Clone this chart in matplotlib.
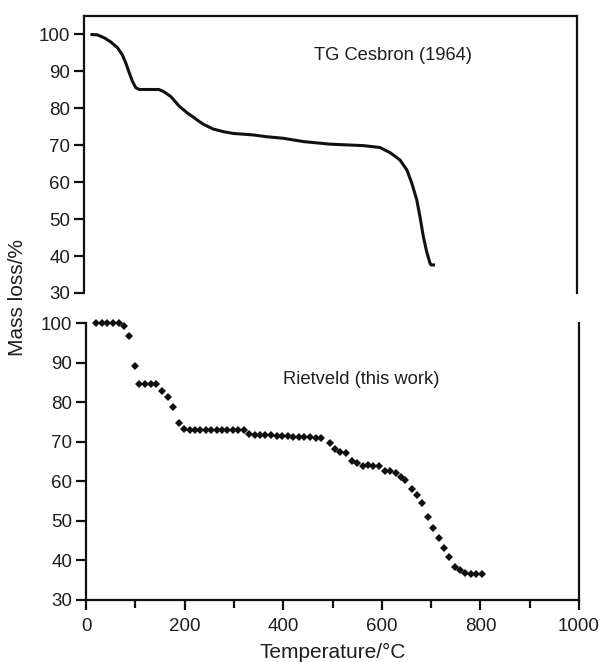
import matplotlib
matplotlib.use("Agg")
import matplotlib.pyplot as plt
from matplotlib.ticker import MultipleLocator

plt.rcParams['font.family'] = ['Liberation Sans', 'DejaVu Sans']

# TG curve (Cesbron, 1964)
tg_temp = [13, 27, 41, 54, 68, 78, 85, 91, 98, 105, 112, 152, 162, 176, 193,
           210, 222, 232, 242, 262, 282, 303, 343, 371, 404, 445, 499, 567,
           600, 621, 641, 655, 665, 675, 682, 688, 695, 702, 704, 712]
tg_mass = [100.0, 99.9, 99.1, 98.0, 96.4, 94.4, 92.2, 89.9, 87.4, 85.6, 85.1,
           85.1, 84.5, 83.2, 80.6, 78.7, 77.6, 76.6, 75.7, 74.4, 73.7, 73.2,
           72.8, 72.3, 71.9, 71.0, 70.3, 69.9, 69.4, 68.0, 66.0, 63.3, 59.7,
           55.2, 50.3, 45.5, 41.2, 38.0, 37.6, 37.6]

# Rietveld refinement results (this work)
rv_temp = [20, 32, 43, 55, 67, 77, 88, 99, 108, 120, 131, 142, 155, 166, 176,
           188, 198, 210, 221, 232, 243, 254, 265, 276, 287, 298, 309, 320, 331,
           342, 353, 364, 375, 387, 398, 409, 420, 432, 443, 454, 466, 477, 494,
           505, 515, 527, 539, 550, 561, 572, 583, 594, 606, 617, 628, 639, 648,
           661, 671, 682, 693, 703, 717, 727, 737, 748, 759, 769, 780, 791, 803]
rv_mass = [100, 100, 100, 100, 99.9, 99.3, 96.8, 89.1, 84.6, 84.6, 84.6, 84.6,
           82.9, 81.4, 78.8, 74.8, 73.1, 72.9, 72.9, 72.9, 72.9, 72.9, 72.9,
           72.9, 72.9, 72.9, 72.9, 72.9, 72.0, 71.8, 71.7, 71.6, 71.6, 71.5,
           71.4, 71.4, 71.3, 71.2, 71.1, 71.1, 71.0, 70.9, 69.6, 68.1, 67.5,
           67.1, 65.2, 64.5, 63.9, 64.1, 63.9, 63.9, 62.6, 62.7, 62.2, 61.1,
           60.3, 58.0, 56.5, 54.6, 50.9, 48.1, 45.6, 43.1, 40.8, 38.4, 37.6,
           36.9, 36.6, 36.6, 36.6]

x_ticks = [0, 200, 400, 600, 800, 1000]
y_ticks = [30, 40, 50, 60, 70, 80, 90, 100]

ink = '#111111'
txt = '#1e1e1e'
W, H = 601, 662
fig = plt.figure(figsize=(W / 100, H / 100), dpi=100)

ax_top = fig.add_axes([84 / W, 1 - 293 / H, 493 / W, 277 / H])
ax_bot = fig.add_axes([86 / W, 1 - 600 / H, 493 / W, 277 / H])

# upper panel: TG line
ax_top.plot(tg_temp, tg_mass, color=ink, lw=2.2, solid_capstyle='butt',
            solid_joinstyle='round')
ax_top.set_xlim(0, 1000)
ax_top.set_ylim(30, 105)
ax_top.spines['bottom'].set_visible(False)
ax_top.tick_params(axis='x', bottom=False, labelbottom=False)
ax_top.text(627, 94.4, 'TG Cesbron (1964)', ha='center', va='center',
            fontsize=13.2, color=txt)

# lower panel: refinement points
ax_bot.plot(rv_temp, rv_mass, linestyle='none', marker='D', markersize=3.8,
            color=ink, markeredgewidth=0, clip_on=False)
ax_bot.set_xlim(0, 1000)
ax_bot.set_ylim(30, 100)
ax_bot.spines['top'].set_visible(False)
ax_bot.set_xticks(x_ticks)
ax_bot.xaxis.set_minor_locator(MultipleLocator(100))
ax_bot.text(558, 85.6, 'Rietveld (this work)', ha='center', va='center',
            fontsize=13.2, color=txt)

for ax in (ax_top, ax_bot):
    ax.set_yticks(y_ticks)
    for s in ax.spines.values():
        s.set_linewidth(1.6)
        s.set_color(ink)
    ax.tick_params(axis='both', which='major', direction='out', length=7,
                   width=1.6, color=ink, labelsize=13.5, labelcolor=txt, pad=3)
    ax.tick_params(axis='x', which='minor', direction='out', length=6,
                   width=1.6, color=ink)
    ax.patch.set_alpha(0)

ax_bot.tick_params(axis='x', which='major', pad=6)
ax_bot.set_xlabel('Temperature/°C', fontsize=15, color=txt, labelpad=6)

fig.text(18 / W, 1 - 297 / H, 'Mass loss/%', rotation=90, ha='center',
         va='center', fontsize=15, color=txt)

fig.savefig('out.png', dpi=100)
